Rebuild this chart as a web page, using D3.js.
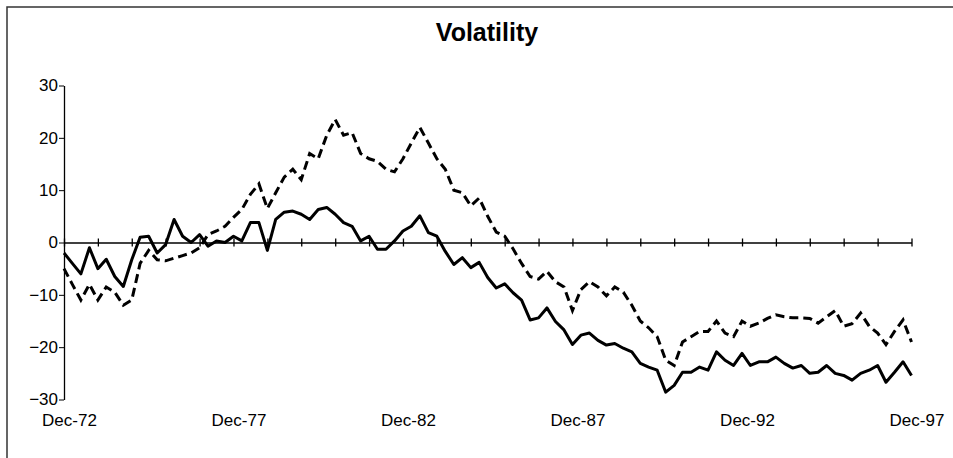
<!DOCTYPE html>
<html>
<head>
<meta charset="utf-8">
<script src="https://cdn.jsdelivr.net/npm/d3@7"></script>
<style>
  body { margin: 0; background: #fff; }
  svg { display: block; font-family: Arial, "Liberation Sans", sans-serif; }
</style>
</head>
<body>
<svg id="chart" width="953" height="458"></svg>
<script>
// quarterly readings, Dec-72 .. Dec-97
const startDate = new Date(1972, 11, 1);
const endDate = new Date(1997, 11, 1);
const yTicks = [-30, -20, -10, 0, 10, 20, 30];
const labelYears = [1972, 1977, 1982, 1987, 1992, 1997];

// solid series
const solidValues = [
  -2, -4, -6, -1, -5, -3.2, -6.5, -8.4, -3.3, 1, 1.2, -2, -0.4, 4.4, 1.2, 0,
  1.5, -0.7, 0.3, 0, 1.2, 0.3, 3.8, 3.8, -1.5, 4.4, 5.8, 6, 5.4, 4.4, 6.3, 6.7,
  5.4, 3.8, 3.1, 0.3, 1.2, -1.3, -1.3, 0.3, 2.2, 3.1, 5.1, 1.9, 1.2, -1.7, -4.2, -2.9,
  -4.8, -3.8, -6.7, -8.7, -7.9, -9.6, -11, -14.8, -14.4, -12.5, -15.1, -16.7, -19.5, -17.7,
  -17.3, -18.7, -19.6, -19.3, -20.2, -20.9, -23.1, -23.8, -24.4, -28.6, -27.3, -24.8, -24.8, -23.8,
  -24.4, -20.9, -22.5, -23.5, -21.2, -23.5, -22.8, -22.8, -21.9, -23.1, -24, -23.5, -25, -24.8,
  -23.5, -25, -25.4, -26.3, -25, -24.4, -23.5, -26.7, -24.8, -22.8, -25.4
];

// dashed series
const dashedValues = [
  -5, -8, -11, -8, -11, -8.5, -9.5, -12, -11, -4, -1.5, -3.3, -3.5, -3, -2.5, -2,
  -1, 1.5, 2.2, 3.1, 4.8, 6.3, 9.2, 11.2, 6.5, 9.5, 12.5, 14, 12, 17, 16, 20.5,
  23.5, 20.5, 21, 17, 16, 15.5, 14, 13.5, 16, 19, 22, 19, 16, 14, 10, 9.5,
  7, 8.5, 5, 2, 1.2, -1.2, -4, -6.5, -7, -5.5, -7.5, -8.5, -13, -9,
  -7.5, -8.5, -10.2, -8.5, -9.5, -12, -15, -16.3, -18, -22.5, -23.5, -19, -18, -17,
  -17, -15, -17.3, -18, -15, -16, -15.4, -14.5, -13.8, -14.2, -14.4, -14.4, -14.5, -15.4,
  -14.2, -13, -16, -15.5, -13.5, -16, -17.3, -19.5, -17, -14.8, -19
];

const svg = d3.select("#chart");

// outer frame (runs past the window on the right and bottom)
svg.append("rect")
  .attr("x", 7).attr("y", 7)
  .attr("width", 980).attr("height", 500)
  .attr("fill", "none")
  .attr("stroke", "#333")
  .attr("stroke-width", 1.5);

svg.append("text")
  .attr("x", 487).attr("y", 41)
  .attr("text-anchor", "middle")
  .attr("font-size", 25)
  .attr("font-weight", "bold")
  .text("Volatility");

const x = d3.scaleTime().domain([startDate, endDate]).range([64, 911.5]);
const y = d3.scaleLinear().domain([-30, 30]).range([399.5, 85.5]);

const quarterDate = i => d3.timeMonth.offset(startDate, i * 3);
const solid = solidValues.map((v, i) => ({ date: quarterDate(i), value: v }));
const dashed = dashedValues.map((v, i) => ({ date: quarterDate(i), value: v }));

// y axis
const yAxis = svg.append("g")
  .attr("transform", "translate(64,0)")
  .call(d3.axisLeft(y).tickValues(yTicks).tickSize(5).tickSizeOuter(0).tickPadding(1));
yAxis.selectAll("text").attr("font-size", 17).attr("fill", "#000");
yAxis.select(".domain").attr("stroke-width", 1.3);

// zero line with yearly ticks crossing it
const yearTicks = d3.range(1972, 1998).map(yr => new Date(yr, 11, 1));
const zeroAxis = svg.append("g")
  .attr("transform", `translate(0,${y(0)})`)
  .call(d3.axisBottom(x).tickValues(yearTicks).tickSize(4).tickSizeOuter(0).tickFormat(""));
zeroAxis.selectAll(".tick line").attr("y1", -4).attr("stroke-width", 1.3);
zeroAxis.select(".domain").attr("stroke-width", 1.3);

// date labels sit below the plot
const labelAxis = svg.append("g")
  .attr("transform", "translate(5,411)")
  .call(d3.axisBottom(x)
    .tickValues(labelYears.map(yr => new Date(yr, 11, 1)))
    .tickFormat(d3.timeFormat("%b-%y"))
    .tickSize(0).tickPadding(3));
labelAxis.select(".domain").remove();
labelAxis.selectAll("text").attr("font-size", 17).attr("fill", "#000");

const line = d3.line()
  .x(d => x(d.date))
  .y(d => y(d.value));

svg.append("path")
  .datum(dashed)
  .attr("fill", "none")
  .attr("stroke", "#000")
  .attr("stroke-width", 3)
  .attr("stroke-dasharray", "9,5")
  .attr("d", line);

svg.append("path")
  .datum(solid)
  .attr("fill", "none")
  .attr("stroke", "#000")
  .attr("stroke-width", 3)
  .attr("stroke-linejoin", "round")
  .attr("d", line);
</script>
</body>
</html>
